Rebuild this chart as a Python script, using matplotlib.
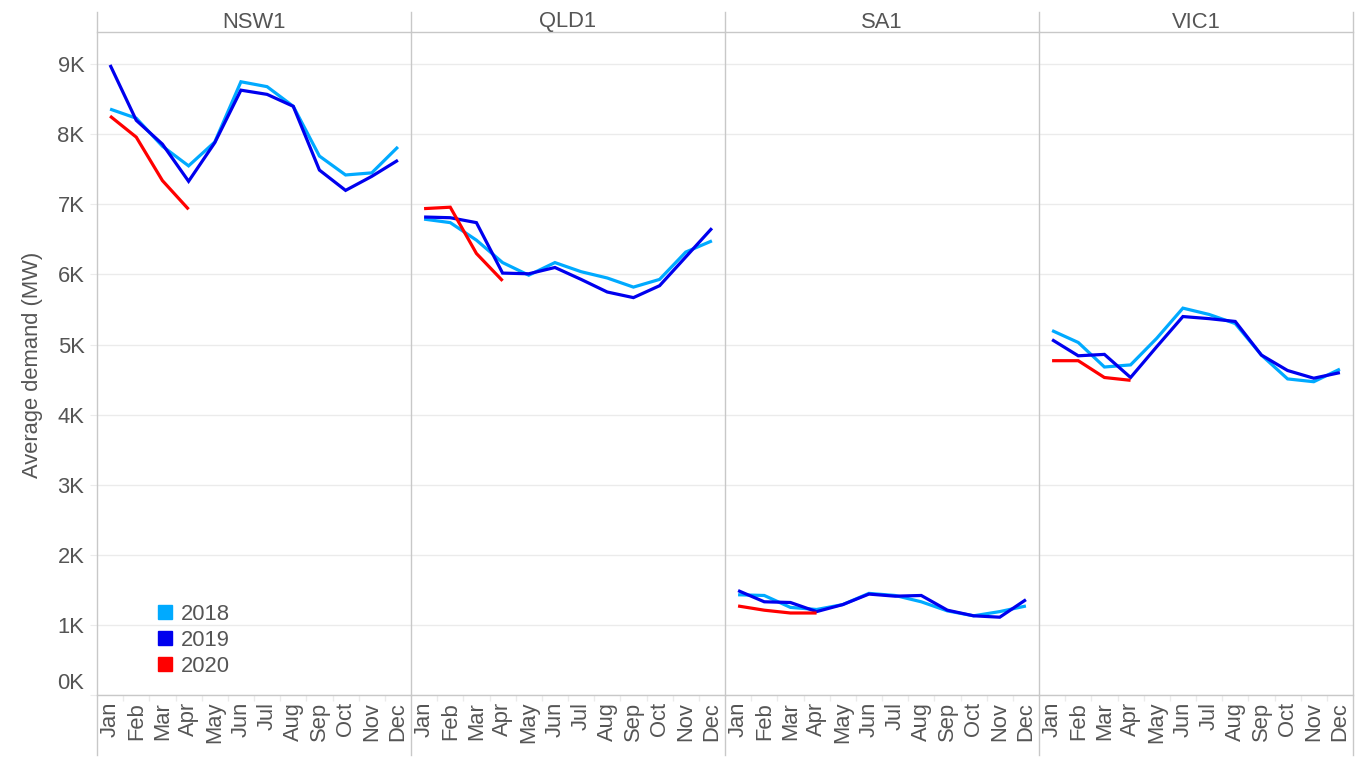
import matplotlib
matplotlib.use("Agg")
import matplotlib.pyplot as plt
from matplotlib.lines import Line2D
import matplotlib.transforms as mtransforms

plt.rcParams['font.family'] = ['Liberation Sans', 'DejaVu Sans']

months = ["Jan", "Feb", "Mar", "Apr", "May", "Jun", "Jul", "Aug", "Sep", "Oct", "Nov", "Dec"]
regions = ["NSW1", "QLD1", "SA1", "VIC1"]
years = ["2018", "2019", "2020"]
colors = {"2018": "#00AAFF", "2019": "#0000EE", "2020": "#FF0000"}

# Average demand in MW
nsw_2018 = [8360, 8230, 7830, 7550, 7890, 8750, 8680, 8400, 7690, 7420, 7450, 7820]
nsw_2019 = [8990, 8200, 7860, 7330, 7880, 8630, 8570, 8400, 7490, 7200, 7400, 7630]
nsw_2020 = [8260, 7960, 7340, 6930]

qld_2018 = [6790, 6740, 6490, 6170, 5990, 6170, 6040, 5950, 5820, 5930, 6320, 6480]
qld_2019 = [6820, 6810, 6740, 6020, 6010, 6100, 5930, 5750, 5670, 5840, 6250, 6660]
qld_2020 = [6940, 6960, 6300, 5910]

sa_2018 = [1430, 1420, 1250, 1220, 1290, 1450, 1420, 1330, 1200, 1130, 1190, 1270]
sa_2019 = [1490, 1330, 1320, 1190, 1290, 1440, 1410, 1420, 1210, 1130, 1110, 1360]
sa_2020 = [1270, 1210, 1170, 1170]

vic_2018 = [5200, 5030, 4680, 4710, 5090, 5520, 5430, 5300, 4850, 4510, 4470, 4650]
vic_2019 = [5070, 4840, 4860, 4530, 4970, 5400, 5370, 5330, 4850, 4630, 4520, 4600]
vic_2020 = [4770, 4770, 4530, 4490]

data = {
    "NSW1": {"2018": nsw_2018, "2019": nsw_2019, "2020": nsw_2020},
    "QLD1": {"2018": qld_2018, "2019": qld_2019, "2020": qld_2020},
    "SA1": {"2018": sa_2018, "2019": sa_2019, "2020": sa_2020},
    "VIC1": {"2018": vic_2018, "2019": vic_2019, "2020": vic_2020},
}

yticks = [0, 1000, 2000, 3000, 4000, 5000, 6000, 7000, 8000, 9000]
ytick_labels = ["0K", "1K", "2K", "3K", "4K", "5K", "6K", "7K", "8K", "9K"]

W, H = 1366, 768
fig = plt.figure(figsize=(W / 100, H / 100), dpi=100)
left, right = 97 / W, 1353 / W
bottom, top = 1 - 695 / H, 1 - 32 / H
fig.subplots_adjust(left=left, right=right, bottom=bottom, top=top, wspace=0)
axes = fig.subplots(1, 4, sharey=True)

text_color = "#555555"
line_grey = "#C8C8C8"
grid_grey = "#EBEBEB"
fs = 15.8

for i, (ax, reg) in enumerate(zip(axes, regions)):
    for yr in years:
        vals = data[reg][yr]
        ax.plot(range(len(vals)), vals, color=colors[yr], lw=2.3, solid_capstyle='butt',
                solid_joinstyle='miter', zorder=3)
    ax.set_xlim(-0.5, 11.5)
    ax.set_ylim(0, 9460)
    ax.set_yticks(yticks)
    ax.grid(axis='y', color=grid_grey, lw=1.0, zorder=0)
    ax.set_axisbelow(True)
    for s in ['left', 'right']:
        ax.spines[s].set_visible(False)
    for s in ['top', 'bottom']:
        ax.spines[s].set_color(line_grey)
        ax.spines[s].set_linewidth(1.0)
    ax.set_xticks(range(12))
    ax.set_xticklabels(months, rotation=90, fontsize=fs, color=text_color)
    ax.set_xticks([k + 0.5 for k in range(11)], minor=True)
    ax.tick_params(axis='x', which='major', length=0, pad=5)
    ax.tick_params(axis='x', which='minor', length=4, color=grid_grey, width=1)
    if i == 0:
        ax.set_yticklabels(ytick_labels, fontsize=fs, color=text_color)
        ax.tick_params(axis='y', length=5, color=grid_grey, pad=4)
        lbl0 = ax.get_yticklabels()[0]
        lbl0.set_transform(lbl0.get_transform() + mtransforms.ScaledTranslation(0, 14 / 100, fig.dpi_scale_trans))
    else:
        ax.tick_params(axis='y', length=0, labelleft=False)
    ax.text(0.5, 1 + 10 / 663, reg, transform=ax.transAxes, ha='center', va='center',
            fontsize=fs, color=text_color)

# Panel separators extending into header and tick-label area
for k in range(5):
    x = (97 + k * 314) / W
    fig.add_artist(Line2D([x, x], [1 - 12 / H, 1 - 755 / H], color=line_grey, lw=1.0,
                          transform=fig.transFigure))

fig.text(33 / W, 1 - 365 / H, "Average demand (MW)", rotation=90, ha='center', va='center',
         fontsize=fs, color=text_color)

handles = [Line2D([], [], marker='s', ls='', color=colors[y], markersize=10) for y in years]
leg = axes[0].legend(handles, years, loc='lower left', bbox_to_anchor=(0.189, 0.027),
                     frameon=False, fontsize=fs, handlelength=0.8, handletextpad=0.3,
                     labelspacing=0.24, borderaxespad=0, borderpad=0)
for t in leg.get_texts():
    t.set_color(text_color)

fig.savefig("out.png", dpi=100)
